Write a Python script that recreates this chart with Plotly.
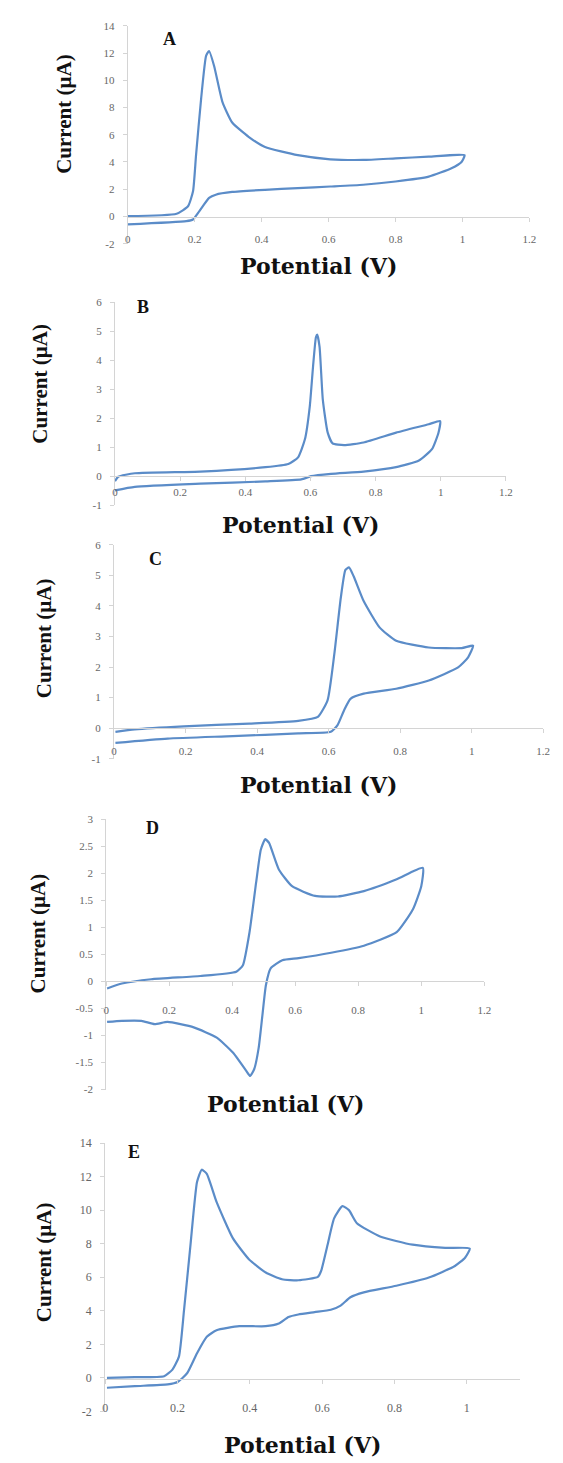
import plotly.graph_objects as go

W, H = 563, 1463

# ---------------- data ----------------
a_x = [0.0, 0.146, 0.18, 0.195, 0.204, 0.219, 0.234, 0.243, 0.258, 0.283, 0.312, 0.361, 0.41, 0.508, 0.605,
       0.703, 0.80, 0.899, 1.006, 0.997, 0.967, 0.899, 0.80, 0.703, 0.605, 0.508, 0.41, 0.312, 0.263, 0.243,
       0.214, 0.195, 0.175, 0.0]
a_y = [0.02, 0.2, 0.75, 1.85, 4.5, 8.6, 11.8, 12.15, 11.05, 8.4, 6.9, 5.85, 5.1, 4.5, 4.2,
       4.15, 4.27, 4.39, 4.5, 4.0, 3.54, 2.93, 2.57, 2.33, 2.2, 2.08, 1.96, 1.8, 1.6, 1.36,
       0.39, -0.22, -0.34, -0.58]

b_x = [0.0, 0.01, 0.061, 0.262, 0.462, 0.532, 0.562, 0.583, 0.598, 0.608, 0.617, 0.621, 0.628, 0.638, 0.653,
       0.668, 0.703, 0.763, 0.863, 0.963, 0.998, 0.993, 0.973, 0.933, 0.863, 0.763, 0.663, 0.602, 0.572,
       0.462, 0.262, 0.061, 0.0]
b_y = [-0.17, -0.02, 0.1, 0.16, 0.31, 0.42, 0.65, 1.27, 2.41, 3.78, 4.8, 4.88, 4.46, 2.64, 1.5,
       1.13, 1.07, 1.16, 1.5, 1.79, 1.9, 1.5, 0.93, 0.54, 0.31, 0.16, 0.08, 0.0, -0.11,
       -0.18, -0.26, -0.37, -0.49]

c_x = [0.004, 0.058, 0.195, 0.378, 0.515, 0.570, 0.597, 0.616, 0.634, 0.647, 0.657, 0.670, 0.698, 0.743, 0.789,
       0.880, 0.972, 1.004, 0.99, 0.962, 0.880, 0.789, 0.698, 0.661, 0.643, 0.625, 0.606, 0.515, 0.332,
       0.150, 0.004]
c_y = [-0.12, -0.04, 0.06, 0.15, 0.24, 0.37, 0.91, 2.43, 4.26, 5.18, 5.26, 4.97, 4.16, 3.29, 2.86,
       2.64, 2.62, 2.7, 2.32, 1.99, 1.56, 1.29, 1.13, 0.96, 0.58, 0.10, -0.12, -0.17, -0.26,
       -0.34, -0.48]

d_x = [0.003, 0.05, 0.143, 0.299, 0.413, 0.434, 0.455, 0.476, 0.491, 0.505, 0.517, 0.548, 0.590, 0.663, 0.735,
       0.818, 0.922, 1.005, 1.0, 0.974, 0.922, 0.818, 0.714, 0.611, 0.559, 0.522, 0.507, 0.496, 0.484,
       0.470, 0.457, 0.444, 0.403, 0.351, 0.278, 0.195, 0.154, 0.112, 0.05, 0.003]
d_y = [-0.13, -0.04, 0.04, 0.10, 0.18, 0.30, 0.91, 1.83, 2.44, 2.63, 2.56, 2.07, 1.76, 1.58, 1.57,
       1.67, 1.89, 2.10, 1.76, 1.34, 0.91, 0.66, 0.53, 0.43, 0.39, 0.24, -0.07, -0.62, -1.23,
       -1.62, -1.75, -1.65, -1.32, -1.04, -0.85, -0.75, -0.79, -0.73, -0.73, -0.75]

e_x = [0.005, 0.082, 0.163, 0.186, 0.204, 0.218, 0.236, 0.254, 0.267, 0.281, 0.308, 0.353, 0.398, 0.444, 0.489,
       0.534, 0.588, 0.597, 0.615, 0.633, 0.656, 0.674, 0.696, 0.760, 0.850, 0.940, 1.008,
       0.995, 0.967, 0.895, 0.805, 0.715, 0.678, 0.651, 0.624, 0.579, 0.534, 0.507, 0.480, 0.444,
       0.371, 0.308, 0.281, 0.254, 0.227, 0.200, 0.173, 0.082, 0.005]
e_y = [0.0, 0.04, 0.1, 0.49, 1.27, 4.02, 7.94, 11.67, 12.41, 12.16, 10.49, 8.33, 7.06, 6.28, 5.88,
       5.82, 6.02, 6.37, 7.94, 9.51, 10.24, 10.0, 9.22, 8.43, 7.94, 7.75, 7.71,
       7.16, 6.67, 5.98, 5.49, 5.1, 4.81, 4.31, 4.06, 3.92, 3.78, 3.63, 3.24, 3.08,
       3.08, 2.84, 2.45, 1.47, 0.29, -0.25, -0.39, -0.49, -0.59]

panel_letters = ["A", "B", "C", "D", "E"]
x_title = "Potential (V)"
y_title = "Current (µA)"

a_yticks = [-2, 0, 2, 4, 6, 8, 10, 12, 14]
b_yticks = [-1, 0, 1, 2, 3, 4, 5, 6]
c_yticks = [-1, 0, 1, 2, 3, 4, 5, 6]
d_yticks = [-2, -1.5, -1, -0.5, 0, 0.5, 1, 1.5, 2, 2.5, 3]
e_yticks = [-2, 0, 2, 4, 6, 8, 10, 12, 14]
x_ticks_full = [0, 0.2, 0.4, 0.6, 0.8, 1, 1.2]
x_ticks_e = [0, 0.2, 0.4, 0.6, 0.8, 1]

# ---------------- layout geometry (pixels) ----------------
panels = [
    dict(x=a_x, y=a_y, yt=a_yticks, xt=x_ticks_full, xr=[0, 1.2], yr=[-2, 14], l=127, r=536, t=19, b=239, z=212,
         let=(170, 32), yt_pos=(62, 108), xt_y=261, so=8, fs=11),
    dict(x=b_x, y=b_y, yt=b_yticks, xt=x_ticks_full, xr=[0, 1.2], yr=[-1, 6], l=114, r=512, t=298, b=503, z=474,
         let=(143, 303), yt_pos=(38, 380), xt_y=523, so=1, fs=11),
    dict(x=c_x, y=c_y, yt=c_yticks, xt=x_ticks_full, xr=[0, 1.2], yr=[-1, 6], l=113, r=550, t=543, b=759, z=728,
         let=(155, 557), yt_pos=(42, 637), xt_y=786, so=9, fs=11),
    dict(x=d_x, y=d_y, yt=d_yticks, xt=x_ticks_full, xr=[0, 1.2], yr=[-2, 3], l=105, r=490, t=820, b=1093, z=983,
         let=(152, 829), yt_pos=(36, 935), xt_y=1108, so=15, fs=11),
    dict(x=e_x, y=e_y, yt=e_yticks, xt=x_ticks_e, xr=[0, 1.146], yr=[-2, 14], l=104, r=526, t=1147, b=1418, z=1385,
         let=(133, 1156), yt_pos=(42, 1267), xt_y=1452, so=14, fs=12),
]

LINE = "#5B8CC8"
AXIS = "#D4D4D4"

fig = go.Figure()
annotations = []
layout = dict(width=W, height=H, margin=dict(l=0, r=0, t=0, b=0),
              paper_bgcolor="white", plot_bgcolor="white", showlegend=False)

for i, p in enumerate(panels, start=1):
    xa = "x" if i == 1 else f"x{i}"
    ya = "y" if i == 1 else f"y{i}"
    tickfont = dict(family="Liberation Serif", size=p["fs"], color="#666666")
    fig.add_trace(go.Scatter(x=p["x"], y=p["y"], mode="lines", xaxis=xa, yaxis=ya,
                             line=dict(color=LINE, width=2.2, shape="spline", smoothing=0.5),
                             hoverinfo="skip"))
    xkey = "xaxis" if i == 1 else f"xaxis{i}"
    ykey = "yaxis" if i == 1 else f"yaxis{i}"
    layout[xkey] = dict(domain=[p["l"] / W, p["r"] / W], range=p["xr"], anchor="free",
                        position=1 - p["z"] / H, showline=True, linecolor=AXIS, linewidth=1,
                        ticks="outside", ticklen=4, tickcolor=AXIS, tickvals=p["xt"],
                        ticktext=[("%g" % v) for v in p["xt"]], tickfont=tickfont,
                        showgrid=False, zeroline=False, ticklabelstandoff=p["so"], fixedrange=True)
    layout[ykey] = dict(domain=[1 - p["b"] / H, 1 - p["t"] / H], range=p["yr"], anchor=xa,
                        showline=True, linecolor=AXIS, linewidth=1, ticks="outside", ticklen=4,
                        tickcolor=AXIS, tickvals=p["yt"], ticktext=[("%g" % v) for v in p["yt"]],
                        tickfont=tickfont, showgrid=False, zeroline=False, ticklabelstandoff=6,
                        fixedrange=True)
    annotations.append(dict(text="<b>%s</b>" % panel_letters[i - 1], x=p["let"][0] / W, y=1 - p["let"][1] / H,
                            xref="paper", yref="paper", showarrow=False, xanchor="center", yanchor="middle",
                            font=dict(family="Liberation Serif", size=18, color="#111")))
    annotations.append(dict(text="<b>%s</b>" % y_title, x=p["yt_pos"][0] / W, y=1 - p["yt_pos"][1] / H,
                            xref="paper", yref="paper", showarrow=False, textangle=-90,
                            xanchor="center", yanchor="middle",
                            font=dict(family="Liberation Serif", size=21, color="#111")))
    annotations.append(dict(text="<b>%s</b>" % x_title, x=((p["l"] + p["r"]) / 2 - 10) / W, y=1 - p["xt_y"] / H,
                            xref="paper", yref="paper", showarrow=False, xanchor="center", yanchor="middle",
                            font=dict(family="DejaVu Serif", size=22, color="#111")))

layout["annotations"] = annotations
fig.update_layout(**layout)
fig.write_html("out.html")
